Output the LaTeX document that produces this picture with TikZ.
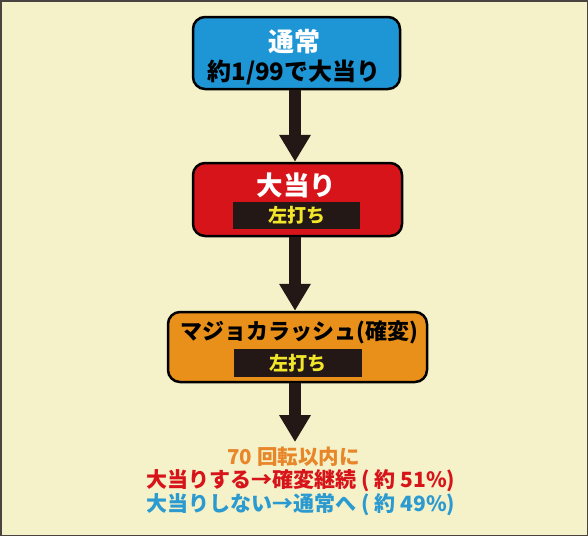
\documentclass[tikz,border=0pt]{standalone}
\usepackage{fontspec}
\setmainfont{Noto Sans CJK JP}
\usetikzlibrary{arrows.meta}
\definecolor{bgc}{HTML}{F5F1C8}
\definecolor{frame}{HTML}{4A4440}
\definecolor{dark}{HTML}{231815}
\definecolor{bluebox}{HTML}{1E96D6}
\definecolor{redbox}{HTML}{D7141A}
\definecolor{orangebox}{HTML}{E8901A}
\definecolor{barfg}{HTML}{F2E62A}
\definecolor{txtorange}{HTML}{E8862A}
\definecolor{txtred}{HTML}{D7141A}
\definecolor{txtblue}{HTML}{2A9AD0}
\tikzset{
  box/.style={draw=black, line width=2.5pt, rounded corners=12pt, inner sep=0pt},
  bar/.style={fill=dark, inner sep=0pt},
  lbl/.style={font=\bfseries, inner sep=0pt, anchor=center},
  flow/.style={draw=dark, line width=12pt, -{Triangle[width=30pt,length=27pt]}},
}
\begin{document}
\begin{tikzpicture}[x=1pt,y=-1pt]
\useasboundingbox (0,0) rectangle (588,536);
\fill[bgc] (0,0) rectangle (588,536);
\draw[frame, line width=1.5pt] (0.75,0.75) rectangle (587.25,535.25);

\node[box, fill=bluebox, minimum width=207pt, minimum height=72pt] (normal) at (296.5,53) {};
\node[lbl, white, font=\bfseries\fontsize{26}{26}\selectfont] (normalT) at (294,42) {通常};
\node[lbl, black, font=\bfseries\fontsize{24}{24}\selectfont] (normalS) at (294,72) {約1/99で大当り};

\node[box, fill=redbox, minimum width=209pt, minimum height=73pt] (hit) at (297.5,199.5) {};
\node[lbl, white, font=\bfseries\fontsize{26.5}{26.5}\selectfont] (hitT) at (296.5,185) {大当り};
\node[bar, minimum width=127pt, minimum height=27pt] (hitBar) at (296.5,215.5) {};
\node[lbl, barfg, font=\bfseries\fontsize{19}{19}\selectfont] (hitS) at (hitBar) {左打ち};

\node[box, fill=orangebox, minimum width=259pt, minimum height=70pt] (rush) at (297.5,347) {};
\node[lbl, black, font=\bfseries\fontsize{22}{22}\selectfont] (rushT) at (299,332) {マジョカラッシュ(確変)};
\node[bar, minimum width=128pt, minimum height=28pt] (rushBar) at (298,363) {};
\node[lbl, barfg, font=\bfseries\fontsize{19}{19}\selectfont] (rushS) at (rushBar) {左打ち};

\coordinate (end) at (295,442);
\node[lbl, txtorange, font=\bfseries\fontsize{20.5}{20.5}\selectfont] (r1) at (293.5,457) {70 回転以内に};
\node[lbl, txtred, font=\bfseries\fontsize{21}{21}\selectfont] (r2) at (301,481) {大当りする→確変継続 ( 約 51\%)};
\node[lbl, txtblue, font=\bfseries\fontsize{21}{21}\selectfont] (r3) at (301,505) {大当りしない→通常へ ( 約 49\%)};

\draw[flow] (normal.south -| 295,0) -- (hit.north -| 295,0);
\draw[flow] (hit.south -| 295,0) -- (rush.north -| 295,0);
\draw[flow] (rush.south -| 295,0) -- (end);
\end{tikzpicture}
\end{document}
